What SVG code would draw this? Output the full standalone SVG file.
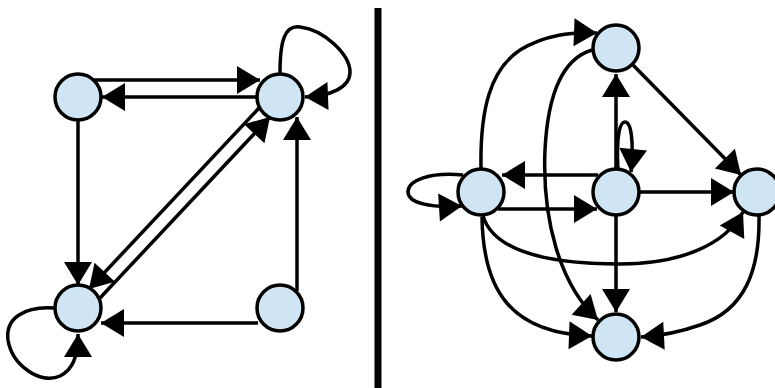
<svg xmlns="http://www.w3.org/2000/svg" width="775" height="388" viewBox="0 0 775 388">
<style>
.e{fill:none;stroke:#000;stroke-width:3.5;marker-end:url(#ah)}
.n{fill:#cfe5f3;stroke:#000;stroke-width:3.5}
</style>
<defs>
<marker id="ah" markerUnits="userSpaceOnUse" markerWidth="26" markerHeight="30" refX="23" refY="14" orient="auto" overflow="visible">
<path d="M0,0 L23,14 L0,28 z" fill="#000"/>
</marker>
</defs>
<rect width="775" height="388" fill="#fff"/>
<line x1="378" y1="8" x2="378" y2="388" stroke="#000" stroke-width="7"/>
<g id="connectors">
<path class="e" d="M94,80 L260,80"/>
<path class="e" d="M256,97 L102,97"/>
<path class="e" d="M78,121 L78,285"/>
<path class="e" d="M280,73 C280,40 285,25 300,27 C325,30 350,55 350,72 C350,88 330,96 305,97"/>
<path class="e" d="M259,108 L89,289"/>
<path class="e" d="M100,298 L270,117"/>
<path class="e" d="M54,308 C25,306 5,318 8,340 C12,365 40,385 60,376 C72,370 78,358 78,334"/>
<path class="e" d="M258,323 L101,323"/>
<path class="e" d="M297,291 L297,117"/>
<path class="e" d="M616,169 L616,74"/>
<path class="e" d="M618,170 C616,135 620,122 625,122 C631,122 634,140 631,172"/>
<path class="e" d="M598,175 L502,175"/>
<path class="e" d="M498,209 L597,209"/>
<path class="e" d="M463,175 C430,172 408,180 408,192 C408,203 430,208 462,206"/>
<path class="e" d="M640,192 L734,192"/>
<path class="e" d="M633,65 L741,175"/>
<path class="e" d="M616,216 L616,312"/>
<path class="e" d="M759,216 C760,270 745,310 700,325 C680,332 660,336 641,337"/>
<path class="e" d="M483,216 C495,255 560,264 620,264 C680,264 725,245 743,212"/>
<path class="e" d="M481,168 C480,110 490,70 520,50 C545,35 570,32 597,33"/>
<path class="e" d="M592,50 C565,58 548,90 545,150 C542,220 560,285 598,320"/>
<path class="e" d="M482,217 C483,290 510,333 592,336"/>
</g>
<g id="nodeA"><circle class="n" cx="78" cy="97" r="23"/></g>
<g id="nodeB"><circle class="n" cx="280" cy="97" r="23"/></g>
<g id="nodeC"><circle class="n" cx="78" cy="308" r="23"/></g>
<g id="nodeD"><circle class="n" cx="280" cy="308" r="23"/></g>
<g id="node1"><circle class="n" cx="616" cy="48" r="23"/></g>
<g id="node2"><circle class="n" cx="481" cy="192" r="23"/></g>
<g id="node3"><circle class="n" cx="616" cy="192" r="23"/></g>
<g id="node4"><circle class="n" cx="757" cy="192" r="23"/></g>
<g id="node5"><circle class="n" cx="616" cy="337" r="23"/></g>
</svg>
